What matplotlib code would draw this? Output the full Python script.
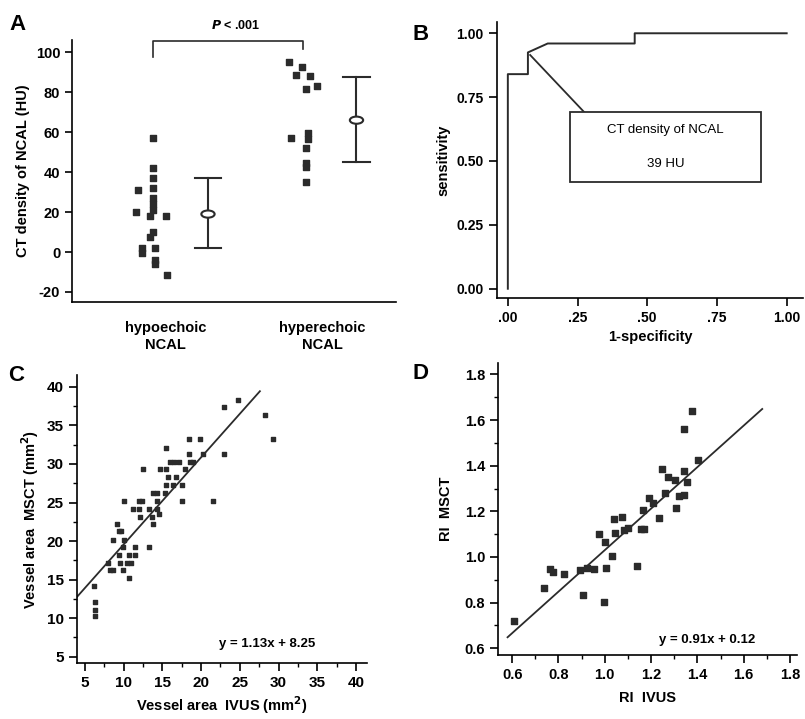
import matplotlib
matplotlib.use("Agg")
import matplotlib.pyplot as plt
from matplotlib.patches import Ellipse, Rectangle
from matplotlib.ticker import MultipleLocator
import numpy as np

plt.rcParams['font.family'] = ['Liberation Sans', 'DejaVu Sans']
plt.rcParams['font.weight'] = 'bold'
plt.rcParams['axes.labelweight'] = 'bold'
plt.rcParams['axes.unicode_minus'] = False
plt.rcParams['axes.linewidth'] = 1.2

ink = '#2b2b2b'

# panel A: CT density of NCAL (HU)
hypo_vals = [57, 42, 37, 31, 32, 27, 24, 21, 20, 18, 18, 10, 7.5, 2, -0.5, 2, -4, -6, -11.6]
hypo_dx = [0, 0, 0, -0.1, 0, 0, 0, 0, -0.11, -0.02, 0.08, 0, -0.02, -0.07, -0.07, 0.01, 0.01, 0.01, 0.09]
hyper_vals = [95, 92.6, 88.6, 88, 81.5, 83, 57, 59.4, 56.4, 52.3, 44.8, 42.8, 35.2]
hyper_dx = [-0.08, 0, -0.04, 0.05, 0.03, 0.1, -0.07, 0.04, 0.04, 0.03, 0.03, 0.03, 0.03]
group_labels = ['hypoechoic\nNCAL', 'hyperechoic\nNCAL']
group_mean = [19, 66]
group_low = [2, 45]
group_high = [37, 87.5]

# panel B: ROC curve
roc_fpr = [0.0, 0.0, 0.072, 0.072, 0.143, 0.455, 0.455, 1.0]
roc_tpr = [0.0, 0.84, 0.84, 0.925, 0.96, 0.96, 1.0, 1.0]

# panel C: vessel area IVUS vs MSCT (mm2)
c_x = [6.2, 6.3, 6.3, 6.3, 8.2, 8.6, 8.0, 8.7, 9.1, 9.4, 9.7, 9.4, 9.5, 10.0, 9.9, 9.9,
       10.0, 10.7, 10.5, 10.7, 11.0, 11.5, 11.5, 11.2, 12.0, 12.1, 12.0, 12.4, 12.5, 13.3,
       13.3, 13.7, 13.8, 13.8, 14.3, 14.3, 14.6, 14.3, 14.7, 15.3, 15.5, 15.5, 15.5, 15.8,
       16.0, 16.5, 16.8, 17.1, 16.4, 17.5, 17.6, 17.9, 18.5, 18.5, 18.6, 19.0, 19.9, 20.3,
       21.6, 23.0, 23.0, 24.8, 28.2, 29.3]
c_y = [14.2, 12.1, 11.1, 10.3, 16.2, 16.2, 17.2, 20.1, 22.2, 21.3, 21.3, 18.2, 17.2, 20.1, 19.2, 16.2,
       25.2, 15.2, 17.2, 18.2, 17.2, 19.2, 18.2, 24.1, 24.1, 23.1, 25.2, 25.2, 29.3, 19.2,
       24.1, 23.1, 22.2, 26.3, 26.3, 25.2, 23.5, 24.1, 29.3, 26.3, 32.1, 29.3, 27.3, 28.3,
       30.3, 30.3, 28.3, 30.3, 27.3, 25.2, 27.3, 29.3, 33.3, 31.3, 30.3, 30.3, 33.3, 31.3,
       25.2, 37.4, 31.3, 38.3, 36.3, 33.3]
c_slope, c_icpt = 1.13, 8.25

# panel D: remodeling index IVUS vs MSCT
d_x = [0.606, 0.736, 0.765, 0.776, 0.824, 0.892, 0.904, 0.924, 0.954, 0.975, 0.996, 1.003,
       1.005, 1.029, 1.041, 1.044, 1.073, 1.083, 1.102, 1.138, 1.155, 1.170, 1.167, 1.189,
       1.232, 1.246, 1.258, 1.275, 1.304, 1.309, 1.319, 1.340, 1.343, 1.355, 1.343, 1.377,
       1.401, 1.21]
d_y = [0.720, 0.863, 0.946, 0.936, 0.926, 0.943, 0.834, 0.950, 0.946, 1.101, 0.804, 1.067,
       0.950, 1.006, 1.165, 1.104, 1.177, 1.118, 1.126, 0.962, 1.123, 1.123, 1.206, 1.257,
       1.169, 1.384, 1.282, 1.352, 1.337, 1.216, 1.267, 1.272, 1.378, 1.330, 1.559, 1.639,
       1.425, 1.235]
d_slope, d_icpt = 0.91, 0.12

fig = plt.figure(figsize=(8.05, 7.19), dpi=100)

# ---- A
axA = fig.add_axes([0.0894, 0.580, 0.402, 0.364])
xa = [1, 2]
axA.scatter(np.array(hypo_dx) + 0.92, hypo_vals, marker='s', s=21, color=ink, zorder=3)
axA.scatter(np.array(hyper_dx) + 1.87, hyper_vals, marker='s', s=21, color=ink, zorder=3)
for xm, m, lo, hi in zip([1.27, 2.22], group_mean, group_low, group_high):
    axA.plot([xm, xm], [lo, hi], color=ink, lw=1.5)
    axA.plot([xm - 0.085, xm + 0.085], [lo, lo], color=ink, lw=1.5)
    axA.plot([xm - 0.085, xm + 0.085], [hi, hi], color=ink, lw=1.5)
    axA.add_patch(Ellipse((xm, m), 0.085, 3.6, facecolor='white', edgecolor=ink, lw=1.5, zorder=4))
axA.plot([0.92, 0.92, 1.875, 1.875], [97.5, 105.7, 105.7, 101.7], color=ink, lw=1.2, clip_on=False)
axA.text(1.45, 110, r'$\it{P}$ < .001', ha='center', va='bottom', fontsize=9)
axA.set_xlim(0.40, 2.47)
axA.set_ylim(-25, 106)
axA.set_yticks(range(-20, 101, 20))
axA.set_xticks(xa)
axA.set_xticklabels(group_labels, fontsize=10.5, linespacing=1.25)
axA.tick_params(axis='x', length=0, pad=14)
axA.tick_params(axis='y', labelsize=10.5, length=5, width=1.2)
axA.set_ylabel('CT density of NCAL (HU)', fontsize=10.5, labelpad=4)
for s in ['top', 'right']:
    axA.spines[s].set_visible(False)
fig.text(0.012, 0.958, 'A', fontsize=16, fontweight='bold')

# ---- B
axB = fig.add_axes([0.617, 0.586, 0.381, 0.383])
axB.plot(roc_fpr, roc_tpr, color=ink, lw=1.4)
axB.plot([0.08, 0.275], [0.915, 0.69], color=ink, lw=1.3)
axB.add_patch(Rectangle((0.222, 0.418), 0.685, 0.273, facecolor='white', edgecolor=ink, lw=1.3, zorder=3))
axB.text(0.565, 0.62, 'CT density of NCAL', ha='center', va='center', fontsize=9.5,
         fontweight='normal', zorder=4)
axB.text(0.565, 0.49, '39 HU', ha='center', va='center', fontsize=9.5, fontweight='normal', zorder=4)
axB.set_xlim(-0.04, 1.06)
axB.set_ylim(-0.035, 1.043)
axB.set_xticks([0, 0.25, 0.5, 0.75, 1.0])
axB.set_xticklabels(['.00', '.25', '.50', '.75', '1.00'])
axB.set_yticks([0, 0.25, 0.5, 0.75, 1.0])
axB.set_yticklabels(['0.00', '0.25', '0.50', '0.75', '1.00'])
axB.tick_params(labelsize=10, length=6, width=1.2)
axB.set_ylabel('sensitivity', fontsize=10.5, labelpad=4)
axB.set_xlabel('1-specificity', fontsize=10.5, labelpad=4)
for s in ['top', 'right']:
    axB.spines[s].set_visible(False)
fig.text(0.512, 0.945, 'B', fontsize=16, fontweight='bold')

# ---- C
axC = fig.add_axes([0.0957, 0.078, 0.36, 0.4])
axC.scatter(c_x, c_y, marker='s', s=11, color=ink, zorder=3)
lx = np.array([3.9, 27.6])
axC.plot(lx, c_slope * lx + c_icpt, color=ink, lw=1.3)
axC.text(28.5, 6.7, 'y = 1.13x + 8.25', ha='center', va='center', fontsize=9.5)
axC.set_xlim(4, 41.4)
axC.set_ylim(4.2, 41.5)
axC.set_xticks(range(5, 41, 5))
axC.set_yticks(range(5, 41, 5))
axC.xaxis.set_minor_locator(MultipleLocator(2.5))
axC.yaxis.set_minor_locator(MultipleLocator(2.5))
axC.tick_params(which='major', labelsize=11, length=6, width=1.2)
axC.tick_params(which='minor', length=3, width=1)
axC.set_ylabel('Vessel area  MSCT (mm$^\\mathbf{2}$)', fontsize=10.5, labelpad=4)
axC.set_xlabel('Vessel area  IVUS (mm$^\\mathbf{2}$)', fontsize=10.5, labelpad=3)
for s in ['top', 'right']:
    axC.spines[s].set_visible(False)
fig.text(0.010, 0.470, 'C', fontsize=16, fontweight='bold')

# ---- D
axD = fig.add_axes([0.619, 0.089, 0.371, 0.406])
axD.scatter(d_x, d_y, marker='s', s=14, color=ink, zorder=3)
lx = np.array([0.58, 1.68])
axD.plot(lx, d_slope * lx + d_icpt, color=ink, lw=1.3)
axD.text(1.44, 0.636, 'y = 0.91x + 0.12', ha='center', va='center', fontsize=9.5)
axD.set_xlim(0.54, 1.83)
axD.set_ylim(0.57, 1.85)
axD.set_xticks(np.arange(0.6, 1.81, 0.2))
axD.set_yticks(np.arange(0.6, 1.81, 0.2))
axD.set_xticklabels(['0.6', '0.8', '1.0', '1.2', '1.4', '1.6', '1.8'])
axD.set_yticklabels(['0.6', '0.8', '1.0', '1.2', '1.4', '1.6', '1.8'])
axD.xaxis.set_minor_locator(MultipleLocator(0.1))
axD.yaxis.set_minor_locator(MultipleLocator(0.1))
axD.tick_params(which='major', labelsize=10.5, length=6, width=1.2)
axD.tick_params(which='minor', length=3, width=1)
axD.set_ylabel('RI  MSCT', fontsize=10.5, labelpad=8)
axD.set_xlabel('RI  IVUS', fontsize=10.5, labelpad=6)
for s in ['top', 'right']:
    axD.spines[s].set_visible(False)
fig.text(0.512, 0.473, 'D', fontsize=16, fontweight='bold')

for ax in (axA, axB, axC, axD):
    for lab in ax.get_xticklabels() + ax.get_yticklabels():
        lab.set_fontweight('bold')

fig.savefig('out.png', dpi=100)
